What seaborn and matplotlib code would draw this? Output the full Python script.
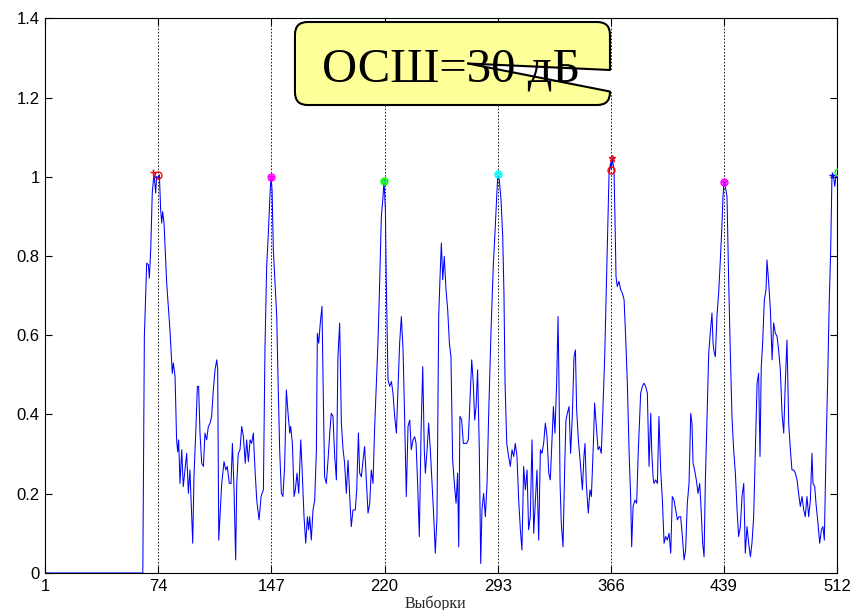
import matplotlib
matplotlib.use('Agg')
import matplotlib.pyplot as plt
from matplotlib.patches import FancyBboxPatch, Polygon
import seaborn as sns

# отсчёты (номер выборки) и нормированная амплитуда
SAMPLE = [
    1, 64, 65, 66.5, 67.6, 68.2, 69.1, 70.1, 71.2, 72.3,
    72.9, 74.0, 74.7, 75.5, 76.2, 76.8, 77.7, 79.4, 81.5, 83.0,
    83.7, 84.8, 85.8, 86.5, 87.1, 88.0, 89.1, 90.1, 91.2, 92.3,
    93.4, 94.4, 95.5, 96.2, 97.0, 98.3, 99.2, 100.0, 100.9, 102.0,
    103.1, 104.1, 105.2, 106.3, 107.4, 108.4, 109.5, 110.6, 111.7, 112.3,
    113.0, 113.8, 114.9, 116.4, 117.5, 118.5, 119.8, 120.9, 121.8, 122.8,
    123.9, 124.6, 125.6, 126.7, 127.8, 128.9, 130.1, 131.0, 132.1, 133.2,
    134.2, 135.3, 136.4, 137.5, 139.0, 140.3, 141.8, 142.8, 143.9, 145.0,
    146.1, 146.7, 147.4, 148.2, 149.3, 150.4, 151.2, 152.3, 153.4, 154.4,
    155.5, 156.6, 157.7, 158.8, 159.4, 160.5, 161.6, 162.4, 163.5, 164.6,
    165.9, 166.7, 168.0, 169.1, 170.2, 171.0, 171.7, 172.7, 173.8, 174.9,
    176.0, 176.6, 177.5, 178.5, 179.6, 180.3, 181.3, 182.4, 183.5, 184.6,
    185.6, 186.7, 187.8, 188.9, 189.9, 191.0, 192.1, 193.2, 194.2, 195.3,
    196.4, 197.5, 198.5, 199.6, 201.1, 202.0, 203.1, 203.9, 205.0, 206.1,
    207.1, 208.2, 209.3, 210.4, 211.4, 212.5, 213.6, 214.7, 215.7, 216.8,
    217.9, 219.0, 219.6, 220.5, 221.1, 222.2, 223.3, 224.4, 225.4, 226.5,
    227.6, 228.6, 229.7, 230.8, 231.9, 232.9, 234.0, 235.1, 236.2, 237.2,
    238.3, 239.4, 240.3, 241.3, 242.4, 243.5, 244.6, 245.6, 246.3, 247.4,
    248.4, 249.5, 250.6, 251.7, 252.7, 253.8, 254.9, 255.7, 256.6, 257.5,
    258.5, 259.6, 260.7, 261.8, 262.8, 263.9, 265.0, 266.1, 267.1, 267.8,
    268.6, 269.7, 270.8, 271.9, 272.9, 274.0, 275.1, 276.2, 277.2, 278.1,
    279.0, 280.0, 281.1, 282.0, 282.8, 283.9, 285.0, 286.1, 287.1, 288.6,
    290.1, 291.2, 292.1, 293.0, 294.0, 295.1, 296.2, 297.0, 297.7, 298.8,
    300.0, 301.1, 302.2, 303.3, 304.3, 305.4, 306.5, 307.6, 308.6, 309.7,
    310.8, 311.9, 312.9, 314.0, 315.1, 316.2, 317.2, 318.3, 319.4, 320.5,
    321.5, 322.6, 323.7, 324.8, 325.9, 326.9, 328.0, 328.9, 329.9, 331.0,
    331.9, 332.5, 333.2, 334.0, 335.1, 336.2, 337.0, 337.9, 339.0, 340.0,
    341.1, 342.2, 343.1, 343.9, 345.0, 346.1, 347.6, 348.6, 349.3, 350.1,
    351.4, 352.5, 353.4, 354.7, 355.5, 356.6, 357.7, 358.7, 359.8, 360.9,
    362.0, 363.1, 364.1, 364.8, 365.8, 366.3, 366.9, 368.0, 368.6, 369.3,
    370.1, 371.2, 372.3, 373.4, 374.5, 375.5, 376.6, 377.7, 378.8, 379.4,
    380.3, 381.5, 382.6, 383.7, 385.2, 386.3, 387.4, 388.4, 389.5, 390.6,
    391.7, 392.3, 393.2, 393.8, 394.9, 396.0, 397.0, 398.1, 399.2, 400.3,
    401.3, 402.4, 403.5, 404.6, 405.6, 406.7, 407.8, 408.9, 409.9, 411.0,
    412.1, 413.2, 414.2, 415.3, 416.4, 417.5, 418.3, 419.0, 420.0, 421.1,
    422.2, 423.3, 424.1, 425.2, 426.1, 426.9, 428.0, 429.1, 430.1, 431.2,
    431.9, 432.7, 433.4, 434.4, 435.5, 436.6, 437.7, 438.3, 439.0, 439.8,
    440.9, 442.0, 443.0, 444.1, 445.2, 446.3, 447.4, 448.4, 449.5, 450.6,
    451.7, 452.7, 453.8, 454.9, 456.0, 457.0, 458.1, 459.2, 460.3, 461.3,
    462.2, 463.0, 463.9, 465.0, 466.1, 466.7, 467.8, 468.9, 470.0, 471.0,
    472.1, 473.2, 474.2, 475.3, 476.4, 477.5, 478.5, 479.6, 480.7, 481.8,
    482.8, 483.9, 485.0, 486.1, 487.1, 488.2, 489.3, 490.4, 491.4, 492.5,
    493.6, 494.7, 495.7, 496.4, 497.5, 498.3, 499.6, 500.7, 501.8, 502.8,
    503.7, 504.8, 505.8, 506.9, 507.8, 508.6, 509.5, 510.4, 511.2, 512.0,
]
AMPLITUDE = [
    0, 0, 0.597, 0.782, 0.778, 0.744, 0.816, 0.959, 1.009, 0.959,
    1.001, 0.997, 1.005, 0.917, 0.883, 0.912, 0.883, 0.732, 0.614, 0.504,
    0.530, 0.496, 0.336, 0.306, 0.336, 0.226, 0.311, 0.218, 0.260, 0.302,
    0.201, 0.260, 0.151, 0.075, 0.243, 0.370, 0.471, 0.471, 0.353, 0.277,
    0.269, 0.353, 0.336, 0.370, 0.378, 0.395, 0.462, 0.513, 0.538, 0.513,
    0.083, 0.142, 0.226, 0.281, 0.260, 0.269, 0.226, 0.226, 0.327, 0.218,
    0.033, 0.226, 0.302, 0.311, 0.370, 0.344, 0.277, 0.336, 0.281, 0.336,
    0.327, 0.353, 0.260, 0.184, 0.134, 0.193, 0.210, 0.563, 0.774, 0.858,
    0.959, 1.001, 0.967, 0.816, 0.732, 0.647, 0.496, 0.311, 0.201, 0.193,
    0.269, 0.462, 0.403, 0.353, 0.370, 0.327, 0.193, 0.210, 0.252, 0.201,
    0.336, 0.269, 0.142, 0.075, 0.142, 0.109, 0.142, 0.083, 0.159, 0.184,
    0.311, 0.605, 0.580, 0.631, 0.673, 0.479, 0.243, 0.226, 0.285, 0.353,
    0.403, 0.395, 0.294, 0.235, 0.546, 0.631, 0.378, 0.311, 0.277, 0.201,
    0.285, 0.193, 0.117, 0.159, 0.159, 0.210, 0.353, 0.252, 0.243, 0.285,
    0.319, 0.235, 0.151, 0.176, 0.260, 0.226, 0.370, 0.479, 0.580, 0.732,
    0.900, 0.950, 0.992, 0.917, 0.732, 0.487, 0.471, 0.483, 0.454, 0.395,
    0.353, 0.462, 0.580, 0.647, 0.563, 0.395, 0.193, 0.370, 0.386, 0.311,
    0.336, 0.344, 0.327, 0.226, 0.092, 0.353, 0.521, 0.311, 0.252, 0.311,
    0.378, 0.311, 0.226, 0.142, 0.050, 0.142, 0.647, 0.740, 0.833, 0.740,
    0.799, 0.715, 0.664, 0.580, 0.546, 0.285, 0.226, 0.176, 0.252, 0.066,
    0.395, 0.386, 0.327, 0.327, 0.327, 0.336, 0.437, 0.538, 0.479, 0.386,
    0.420, 0.513, 0.311, 0.024, 0.159, 0.201, 0.142, 0.226, 0.395, 0.605,
    0.774, 0.858, 0.934, 1.005, 0.992, 0.942, 0.849, 0.706, 0.479, 0.327,
    0.294, 0.269, 0.311, 0.294, 0.327, 0.294, 0.184, 0.109, 0.058, 0.269,
    0.210, 0.260, 0.109, 0.142, 0.336, 0.100, 0.176, 0.260, 0.083, 0.311,
    0.302, 0.327, 0.378, 0.344, 0.252, 0.235, 0.336, 0.420, 0.353, 0.479,
    0.647, 0.479, 0.226, 0.125, 0.066, 0.269, 0.386, 0.403, 0.420, 0.302,
    0.395, 0.546, 0.563, 0.412, 0.336, 0.285, 0.210, 0.294, 0.327, 0.226,
    0.151, 0.210, 0.193, 0.327, 0.429, 0.370, 0.311, 0.319, 0.302, 0.420,
    0.546, 0.732, 0.900, 1.009, 1.035, 1.018, 1.047, 1.018, 0.900, 0.748,
    0.723, 0.736, 0.715, 0.706, 0.690, 0.597, 0.479, 0.311, 0.184, 0.066,
    0.168, 0.184, 0.176, 0.311, 0.454, 0.471, 0.479, 0.471, 0.454, 0.269,
    0.403, 0.311, 0.243, 0.226, 0.235, 0.226, 0.395, 0.260, 0.184, 0.075,
    0.092, 0.083, 0.100, 0.050, 0.193, 0.184, 0.159, 0.134, 0.142, 0.142,
    0.092, 0.033, 0.058, 0.176, 0.226, 0.403, 0.378, 0.277, 0.260, 0.235,
    0.201, 0.226, 0.168, 0.075, 0.041, 0.226, 0.395, 0.555, 0.605, 0.656,
    0.580, 0.555, 0.546, 0.647, 0.706, 0.790, 0.883, 0.950, 0.987, 0.976,
    0.950, 0.732, 0.563, 0.395, 0.311, 0.252, 0.159, 0.092, 0.117, 0.193,
    0.226, 0.050, 0.117, 0.075, 0.041, 0.075, 0.142, 0.311, 0.479, 0.504,
    0.294, 0.521, 0.580, 0.690, 0.715, 0.790, 0.732, 0.664, 0.538, 0.631,
    0.605, 0.597, 0.563, 0.513, 0.403, 0.353, 0.479, 0.588, 0.378, 0.311,
    0.260, 0.260, 0.252, 0.235, 0.201, 0.168, 0.193, 0.159, 0.142, 0.193,
    0.142, 0.184, 0.302, 0.226, 0.218, 0.176, 0.125, 0.075, 0.109, 0.117,
    0.083, 0.311, 0.479, 0.690, 0.816, 1.001, 1.005, 0.976, 1.001, 1.0,
]

# отметки найденных пиков
MARK_X = [70.6, 74.0, 147.0, 147.0, 219.6, 219.6, 293.0, 293.0,
          366.9, 366.3, 439.0, 439.0, 508.7, 512.3]
MARK_Y = [1.011, 1.005, 1.0, 1.0, 0.99, 0.99, 1.008, 1.008,
          1.047, 1.018, 0.987, 0.987, 1.005, 1.013]
MARK_SHAPE = ['+', 'o', '*', 'o', '*', 'o', '*', 'o', '*', 'o', '*', 'o', '+', 'o']
MARK_COLOR = ['red', 'red', 'magenta', 'magenta', 'lime', 'lime', 'cyan', 'cyan',
              'red', 'red', 'magenta', 'magenta', 'blue', 'lime']

X_TICKS = [1, 74, 147, 220, 293, 366, 439, 512]
Y_TICKS = [0, 0.2, 0.4, 0.6, 0.8, 1.0, 1.2, 1.4]
Y_TICK_LABELS = ['0', '0.2', '0.4', '0.6', '0.8', '1', '1.2', '1.4']
X_LABEL = 'Выборки'
SNR_TEXT = 'ОСШ=30 дБ'

SERIF = ['Liberation Serif', 'DejaVu Serif']


def draw_signal(ax):
    sns.lineplot(x=SAMPLE, y=AMPLITUDE, ax=ax, color='#0000ff',
                 linewidth=0.75, estimator=None, sort=False)
    for x, y, m, c in zip(MARK_X, MARK_Y, MARK_SHAPE, MARK_COLOR):
        ax.plot([x], [y], marker=m, color=c, markersize=5, mfc='none',
                mew=1.0, linestyle='none', zorder=4)


def style_axes(ax):
    ax.set_xlim(1, 512)
    ax.set_ylim(0, 1.4)
    ax.set_xticks(X_TICKS)
    ax.set_xticklabels([str(t) for t in X_TICKS])
    ax.set_yticks(Y_TICKS)
    ax.set_yticklabels(Y_TICK_LABELS)
    ax.tick_params(direction='in', length=5, width=0.8, colors='black',
                   labelsize=12, pad=4, bottom=True, top=True, left=True, right=True)
    ax.grid(True, axis='x', linestyle=(0, (2, 2)), color='black', linewidth=0.6)
    ax.grid(False, axis='y')
    for sp in ax.spines.values():
        sp.set_color('black')
        sp.set_linewidth(0.8)
    ax.set_xlabel(X_LABEL, fontsize=11.5, family=SERIF)
    ax.xaxis.set_label_coords(0.4923, -0.040)
    ax.set_ylabel('')


def draw_callout(ax):
    # жёлтая выноска с подписью ОСШ
    box = FancyBboxPatch((0.3154, 0.8437), 0.3977, 0.1496,
                         boxstyle='round,pad=0,rounding_size=0.016',
                         mutation_aspect=1.428, transform=ax.transAxes,
                         facecolor='#ffff99', edgecolor='black', linewidth=1.5,
                         clip_on=False, zorder=5)
    ax.add_patch(box)
    tip = (0.5338, 0.9185)
    upper = (0.7131, 0.9068)
    lower = (0.7131, 0.8680)
    wedge = Polygon([tip, upper, (0.7170, 0.9068), (0.7170, 0.8680), lower],
                    closed=True, transform=ax.transAxes, facecolor='white',
                    edgecolor='none', clip_on=False, zorder=6)
    ax.add_patch(wedge)
    ax.text(0.5124, 0.8857, SNR_TEXT, transform=ax.transAxes, ha='center',
            va='baseline', fontsize=35, family=SERIF, color='black', zorder=7)
    for end in (upper, lower):
        ax.plot([tip[0], end[0]], [tip[1], end[1]], color='black', linewidth=1.5,
                transform=ax.transAxes, clip_on=False, zorder=8)


def main():
    sns.set_style('white')
    plt.rcParams['font.family'] = ['Liberation Sans', 'DejaVu Sans']

    fig = plt.figure(figsize=(8.57, 6.10), dpi=100)
    ax = fig.add_axes([0.0527, 0.0607, 0.9242, 0.9093])

    draw_signal(ax)
    style_axes(ax)
    draw_callout(ax)

    fig.savefig('out.png', dpi=100)
    plt.close(fig)


if __name__ == "__main__":
    main()
